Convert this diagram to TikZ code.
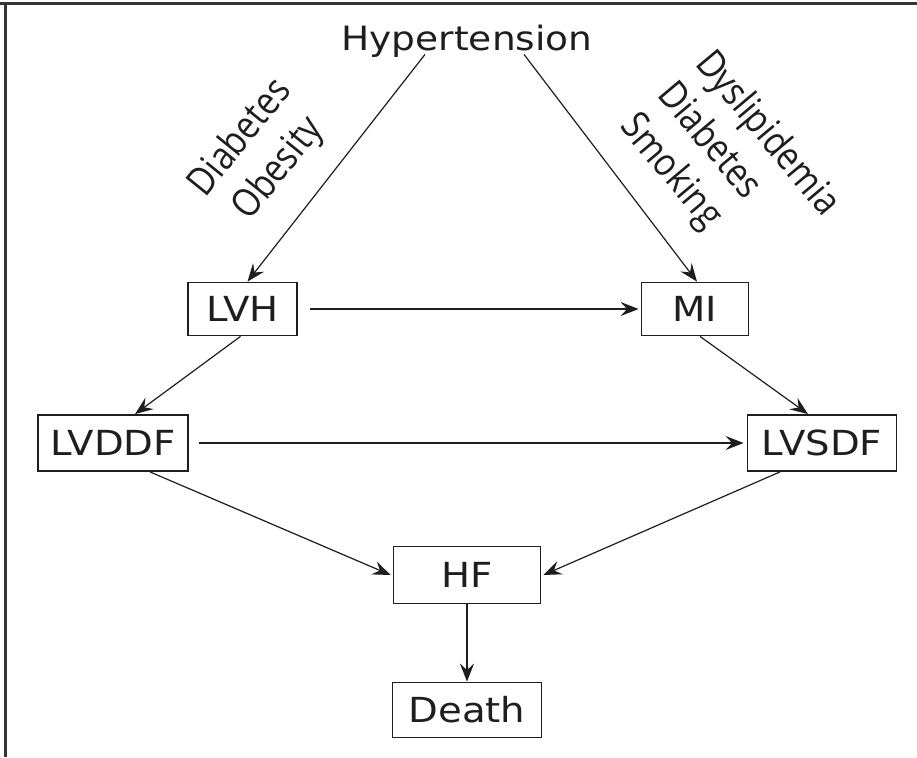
\documentclass[tikz,border=0pt]{standalone}
\usepackage{fontspec}
\setmainfont[FakeStretch=1.12]{DejaVu Sans}
\newfontfamily\labelfont[FakeStretch=0.86]{Open Sans}
\usetikzlibrary{arrows.meta}
\definecolor{ink}{HTML}{1E1E1E}
\begin{document}
\begin{tikzpicture}[x=1pt,y=-1pt,
  box/.style={draw=ink,line width=1.8pt,text=ink,inner sep=0pt,
    minimum height=53pt,font=\fontsize{34.5}{40}\selectfont},
  title/.style={text=ink,inner sep=0pt,font=\fontsize{33.5}{40}\selectfont},
  risk/.style={text=ink,inner sep=0pt,
    font=\labelfont\fontsize{39}{49}\selectfont},
  arr/.style={draw=ink,line width=1.2pt,
    -{Stealth[length=18pt,width=14pt,inset=6.5pt]}},
  frame/.style={draw=ink!90,line width=3pt}]
\useasboundingbox (0,0) rectangle (917,757);
\fill[white] (0,0) rectangle (917,757);
% page frame: top rule and left rule only
\draw[frame] (0,4) -- (917,4);
\draw[frame] (5,4) -- (5,757);

% nodes
\node[title] (hyp) at (467,41) {Hypertension};
\node[box,minimum width=109pt] (lvh) at (242.5,309) {LVH};
\node[box,minimum width=107pt] (mi) at (695,309) {MI};
\node[box,minimum width=150pt,minimum height=56pt] (lvddf) at (113,443) {LVDDF};
\node[box,minimum width=149pt,minimum height=56pt] (lvsdf) at (822,443) {LVSDF};
\node[box,minimum width=147pt,minimum height=57pt] (hf) at (467,575) {HF};
\node[box,minimum width=149pt,minimum height=55pt] (death) at (467,710) {Death};

% risk factor labels
\node[risk,align=center,rotate=51] (leftrisk) at (260,154) {Diabetes\\Obesity};
\node[risk,align=left,rotate=-50] (rightrisk) at (729,166) {Dyslipidemia\\Diabetes\\Smoking};

% connectors
\draw[arr] ([xshift=-42pt,yshift=3pt]hyp.south) -- ([xshift=5pt]lvh.north);
\draw[arr] ([xshift=57pt,yshift=3pt]hyp.south) -- ([xshift=2pt]mi.north);
\draw[arr] ([xshift=12pt]lvh.east) -- ([xshift=-2pt]mi.west);
\draw[arr] ([xshift=-2pt]lvh.south) -- ([xshift=22pt]lvddf.north);
\draw[arr] ([xshift=5pt]mi.south) -- ([xshift=-14pt]lvsdf.north);
\draw[arr] ([xshift=10pt]lvddf.east) -- ([xshift=-3pt]lvsdf.west);
\draw[arr] ([xshift=37pt]lvddf.south) -- ([xshift=-2pt]hf.west);
\draw[arr] ([xshift=-42pt]lvsdf.south) -- ([xshift=2pt]hf.east);
\draw[arr,line width=2.2pt] (hf.south) -- (death.north);
\end{tikzpicture}
\end{document}
